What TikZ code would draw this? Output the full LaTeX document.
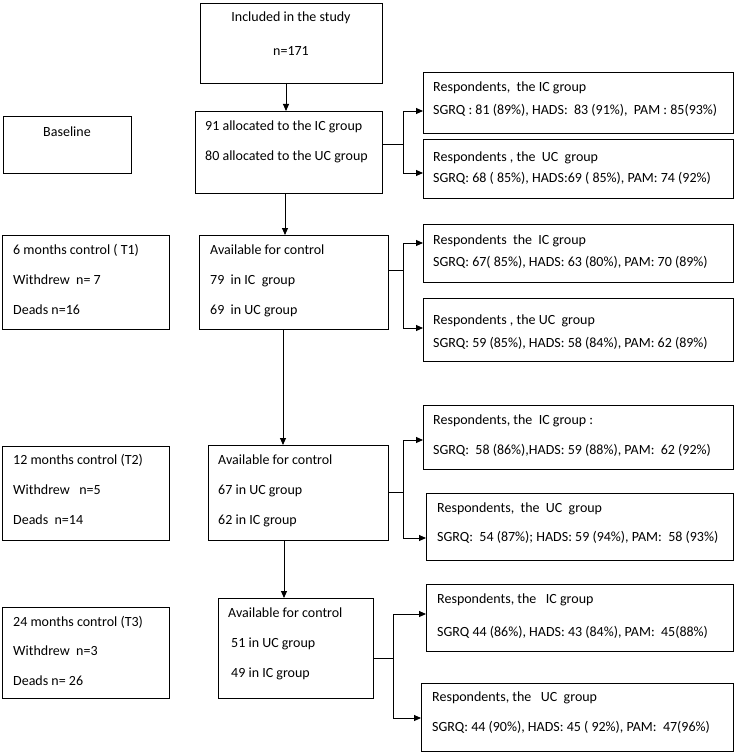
\documentclass[tikz,border=0pt]{standalone}
\usepackage{fontspec}
\setmainfont{Carlito}
\usetikzlibrary{fit,arrows.meta}
\tikzset{
  box/.style={draw, line width=0.9pt, inner sep=0pt, outer sep=0pt},
  txt/.style={anchor=west, inner sep=0pt, text height=9.5pt, text depth=0pt, font=\fontsize{14}{16}\selectfont},
  ctxt/.style={txt, anchor=center},
  conn/.style={line width=0.9pt},
  arr/.style={conn, -{Triangle[length=7pt,width=6pt]}}
}
\newcommand\bx[5]{\node[box, fit={(#2,#3) (#4,#5)}] (#1) {};}
\newcommand\tx[4]{\node[txt] (#1) at (#2,#3) {#4};}
\begin{document}
\begin{tikzpicture}[x=1pt,y=-1pt]
\useasboundingbox (0,0) rectangle (736,754);
% boxes
\bx{b0}{200}{3}{382}{83}
\bx{bl}{3}{116}{131}{173}
\bx{b2}{195}{111}{382}{193}
\bx{r1}{423}{72}{733}{133}
\bx{r2}{423}{139}{733}{198}
\bx{L1}{2}{235}{169}{329}
\bx{b3}{199}{235}{388}{329}
\bx{r3}{423}{224}{733}{282}
\bx{r4}{423}{298}{733}{361}
\bx{L2}{2}{446}{169}{540}
\bx{b4}{208}{445}{388}{540}
\bx{r5}{423}{405}{733}{469}
\bx{r6}{426}{493}{733}{560}
\bx{L3}{2}{607}{169}{698}
\bx{b5}{218}{598}{373}{698}
\bx{r7}{426}{584}{733}{651}
\bx{r8}{421}{683}{733}{751}
% texts
\node[ctxt] (t0a) at (291,17) {Included in the study};
\node[ctxt] (t0b) at (291,51) {n=171};
\node[ctxt] (tbl) at (67,132) {Baseline};
\tx{t2a}{205}{126}{91 allocated to the IC group}
\tx{t2b}{205}{156}{80 allocated to the UC group}
\tx{r1a}{433}{87}{Respondents,\ \ the IC group}
\tx{r1b}{433}{110}{SGRQ : 81 (89\%), HADS:\ \ 83 (91\%),\ \ PAM : 85(93\%)}
\tx{r2a}{433}{157}{Respondents , the\ \ UC\ \ group}
\tx{r2b}{433}{178}{SGRQ: 68 ( 85\%), HADS:69 ( 85\%), PAM: 74 (92\%)}
\tx{L1a}{13}{250}{6 months control ( T1)}
\tx{L1b}{13}{280}{Withdrew\ \ n= 7}
\tx{L1c}{13}{310}{Deads n=16}
\tx{t3a}{210}{250}{Available for control}
\tx{t3b}{210}{280}{79\ \ in IC\ \ group}
\tx{t3c}{210}{310}{69\ \ in UC group}
\tx{r3a}{433}{240}{Respondents\ \ the\ \ IC group}
\tx{r3b}{433}{262}{SGRQ: 67( 85\%), HADS: 63 (80\%), PAM: 70 (89\%)}
\tx{r4a}{433}{320}{Respondents , the UC\ \ group}
\tx{r4b}{433}{343}{SGRQ: 59 (85\%), HADS: 58 (84\%), PAM: 62 (89\%)}
\tx{L2a}{13}{460}{12 months control (T2)}
\tx{L2b}{13}{490}{Withdrew\ \ \ n=5}
\tx{L2c}{13}{520}{Deads\ \ n=14}
\tx{t4a}{218}{460}{Available for control}
\tx{t4b}{218}{490}{67 in UC group}
\tx{t4c}{218}{520}{62 in IC group}
\tx{r5a}{433}{420}{Respondents, the\ \ IC group :}
\tx{r5b}{433}{450}{SGRQ:\ \ 58 (86\%),HADS: 59 (88\%), PAM:\ \ 62 (92\%)}
\tx{r6a}{437}{508}{Respondents,\ \ the\ \ UC\ \ group}
\tx{r6b}{437}{537}{SGRQ:\ \ 54 (87\%); HADS: 59 (94\%), PAM:\ \ 58 (93\%)}
\tx{L3a}{13}{622}{24 months control (T3)}
\tx{L3b}{13}{651}{Withdrew\ \ n=3}
\tx{L3c}{13}{681}{Deads n= 26}
\tx{t5a}{228}{613}{Available for control}
\tx{t5b}{231}{643}{51 in UC group}
\tx{t5c}{231}{673}{49 in IC group}
\tx{r7a}{437}{599}{Respondents, the\ \ \ IC group}
\tx{r7b}{437}{632}{SGRQ 44 (86\%), HADS: 43 (84\%), PAM:\ \ 45(88\%)}
\tx{r8a}{432}{697}{Respondents, the\ \ \ UC\ \ group}
\tx{r8b}{432}{727}{SGRQ: 44 (90\%), HADS: 45 ( 92\%), PAM:\ \ 47(96\%)}
% spine coordinates
\coordinate (s1) at (286,0);
\coordinate (s2) at (285,0);
\coordinate (s3) at (283,0);
\coordinate (s4) at (284,0);
\draw[arr] (b0.south -| s1) -- (b2.north -| s1);
\draw[arr] (b2.south -| s2) -- (b3.north -| s2);
\draw[arr] (b3.south -| s3) -- (b4.north -| s3);
\draw[arr] (b4.south -| s4) -- (b5.north -| s4);
% branch joints
\coordinate (j1) at (403,144);
\coordinate (j2) at (403,270);
\coordinate (j3) at (403,492);
\coordinate (j4) at (393,658);
\coordinate (a1) at (0,111);
\coordinate (a2) at (0,173);
\coordinate (a3) at (0,243);
\coordinate (a4) at (0,328);
\coordinate (a5) at (0,440);
\coordinate (a6) at (0,538);
\coordinate (a7) at (0,614);
\coordinate (a8) at (0,718);
\draw[conn] (b2.east |- j1) -- (j1);
\draw[arr] (j1) |- (r1.west |- a1);
\draw[arr] (j1) |- (r2.west |- a2);
\draw[conn] (b3.east |- j2) -- (j2);
\draw[arr] (j2) |- (r3.west |- a3);
\draw[arr] (j2) |- (r4.west |- a4);
\draw[conn] (b4.east |- j3) -- (j3);
\draw[arr] (j3) |- (r5.west |- a5);
\draw[arr] (j3) |- (r6.west |- a6);
\draw[conn] (b5.east |- j4) -- (j4);
\draw[arr] (j4) |- (r7.west |- a7);
\draw[arr] (j4) |- (r8.west |- a8);
\end{tikzpicture}
\end{document}
